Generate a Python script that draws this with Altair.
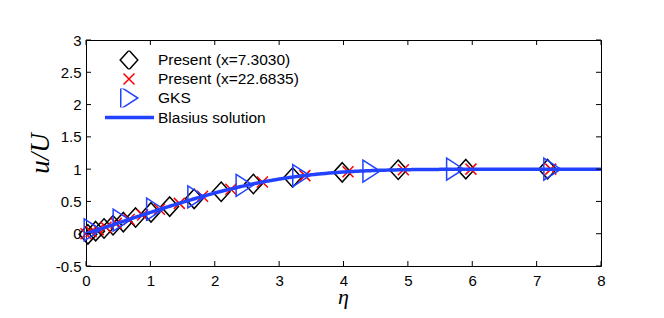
import altair as alt
import pandas as pd

# ---- data ----
S1 = "Present (x=7.3030)"
S2 = "Present (x=22.6835)"
S3 = "GKS"
S4 = "Blasius solution"

eta_p1 = [0.03, 0.15, 0.28, 0.42, 0.58, 0.77, 1.01, 1.30, 1.68, 2.10, 2.60, 3.21, 3.98, 4.85, 5.90, 7.17]
u_p1 = [-0.01, 0.04, 0.08, 0.13, 0.18, 0.25, 0.33, 0.42, 0.54, 0.65, 0.77, 0.87, 0.95, 0.99, 1.00, 1.00]

eta_p2 = [0.0, 0.08, 0.19, 0.31, 0.47, 0.67, 0.88, 1.14, 1.45, 1.81, 2.25, 2.74, 3.40, 4.07, 4.93, 5.98, 7.22]
u_p2 = [0.00, 0.03, 0.06, 0.10, 0.16, 0.22, 0.29, 0.38, 0.47, 0.58, 0.69, 0.80, 0.90, 0.96, 0.99, 1.00, 1.00]

eta_gks = [0.10, 0.55, 1.07, 1.71, 2.46, 3.34, 4.43, 5.73, 7.24]
u_gks = [0.06, 0.21, 0.38, 0.57, 0.75, 0.90, 0.97, 1.00, 1.00]

eta_bl = [0, 0.2, 0.4, 0.6, 0.8, 1.0, 1.2, 1.4, 1.6, 1.8, 2.0, 2.2, 2.4, 2.6, 2.8, 3.0,
          3.2, 3.4, 3.6, 3.8, 4.0, 4.2, 4.4, 4.6, 4.8, 5.0, 5.4, 6.0, 7.0, 8.0]
u_bl = [0, 0.066, 0.133, 0.199, 0.265, 0.330, 0.394, 0.456, 0.517, 0.575, 0.630, 0.681,
        0.729, 0.773, 0.812, 0.846, 0.876, 0.902, 0.923, 0.941, 0.956, 0.967, 0.976,
        0.983, 0.988, 0.992, 0.996, 0.999, 1.0, 1.0]

x_ticks = [0, 1, 2, 3, 4, 5, 6, 7, 8]
y_ticks = [-0.5, 0, 0.5, 1, 1.5, 2, 2.5, 3]

# ---- tables ----
pts = pd.concat([
    pd.DataFrame({"eta": eta_p1, "u": u_p1, "series": S1}),
    pd.DataFrame({"eta": eta_p2, "u": u_p2, "series": S2}),
    pd.DataFrame({"eta": eta_gks, "u": u_gks, "series": S3}),
], ignore_index=True)
bl = pd.DataFrame({"eta": eta_bl, "u": u_bl, "series": S4})
xt = pd.DataFrame({"t": x_ticks})
yt = pd.DataFrame({"t": y_ticks})

W, H = 515, 226
BLUE = "#2342ff"
XSCALE = alt.Scale(domain=[0, 8], nice=False, zero=False)
YSCALE = alt.Scale(domain=[-0.5, 3], nice=False, zero=False)
LAB = "Liberation Sans"

XAXIS = alt.Axis(values=x_ticks, domain=False, ticks=False, grid=False,
                 labelFont=LAB, labelFontSize=15, labelColor="black",
                 labelPadding=7, labelExpr="datum.value + ''",
                 labelOverlap=False, labelFlush=False,
                 title="η", titleFont="Liberation Serif",
                 titleFontStyle="italic", titleFontWeight="normal",
                 titleFontSize=22, titleColor="black",
                 titleX=257, titleY=30, titleBaseline="middle")
YAXIS = alt.Axis(values=y_ticks, domain=False, ticks=False, grid=False,
                 labelFont=LAB, labelFontSize=15, labelColor="black",
                 labelPadding=5, labelExpr="datum.value + ''",
                 labelOverlap=False, labelFlush=False,
                 title="u/U", titleFont="Liberation Serif",
                 titleFontStyle="italic", titleFontWeight="normal",
                 titleFontSize=27, titleColor="black",
                 titleX=-46, titleY=113, titleAngle=-90,
                 titleAlign="center", titleBaseline="middle")

dom = [S1, S2, S3]
SHAPES = ["M0,-0.88L0.8,0L0,0.88L-0.8,0Z",
          "M-0.5,-0.5L0.5,0.5M-0.5,0.5L0.5,-0.5",
          "M-0.75,-1L0.8,0L-0.75,1Z"]
MSIZE = 484
leg = dict(orient="none", legendX=31, legendY=10.5, title=None, padding=0,
           labelFont=LAB, labelFontSize=15.5, labelColor="black", labelOffset=17,
           rowPadding=0, clipHeight=19, symbolStrokeWidth=1.5, symbolSize=MSIZE)

points = alt.Chart(pts).mark_point(filled=False, strokeWidth=1.5, opacity=1, size=MSIZE).encode(
    x=alt.X("eta:Q", scale=XSCALE, axis=XAXIS),
    y=alt.Y("u:Q", scale=YSCALE, axis=YAXIS),
    color=alt.Color("series:N", scale=alt.Scale(domain=dom, range=["black", "#ff0000", BLUE]),
                    legend=alt.Legend(**leg)),
    shape=alt.Shape("series:N", scale=alt.Scale(domain=dom, range=SHAPES),
                    legend=alt.Legend(**leg)),
    order=alt.Order("order:Q"),
).transform_calculate(order="indexof(['%s','%s','%s'], datum.series)" % (S1, S2, S3))

line = alt.Chart(bl).mark_line(strokeWidth=3.5, color=BLUE).encode(
    x=alt.X("eta:Q", scale=XSCALE, axis=XAXIS),
    y=alt.Y("u:Q", scale=YSCALE, axis=YAXIS),
    strokeDash=alt.StrokeDash("series:N", scale=alt.Scale(domain=[S4], range=[[1, 0]]),
                    legend=alt.Legend(orient="none", legendX=17, legendY=51, title=None,
                                      padding=0, labelFont=LAB, labelFontSize=15.5,
                                      labelColor="black", labelOffset=2,
                                      symbolType="stroke", symbolSize=2401,
                                      symbolStrokeColor=BLUE,
                                      symbolStrokeWidth=3.5)),
)

tick_style = dict(color="black", strokeWidth=1)
xb = alt.Chart(xt).mark_rule(**tick_style).encode(x=alt.X("t:Q", scale=XSCALE, axis=XAXIS), y=alt.value(H), y2=alt.value(H - 5))
xtop = alt.Chart(xt).mark_rule(**tick_style).encode(x=alt.X("t:Q", scale=XSCALE, axis=XAXIS), y=alt.value(0), y2=alt.value(5))
yl = alt.Chart(yt).mark_rule(**tick_style).encode(y=alt.Y("t:Q", scale=YSCALE, axis=YAXIS), x=alt.value(0), x2=alt.value(5))
yr = alt.Chart(yt).mark_rule(**tick_style).encode(y=alt.Y("t:Q", scale=YSCALE, axis=YAXIS), x=alt.value(W), x2=alt.value(W - 5))

chart = alt.layer(points, line, xb, xtop, yl, yr).properties(
    width=W, height=H,
    autosize=alt.AutoSizeParams(type="none"),
    padding={"left": 78, "top": 32, "right": 55, "bottom": 52},
    background="white",
).configure_view(stroke="black", strokeWidth=1)

chart.save("out.html", embed_options={"renderer": "svg", "actions": False})
